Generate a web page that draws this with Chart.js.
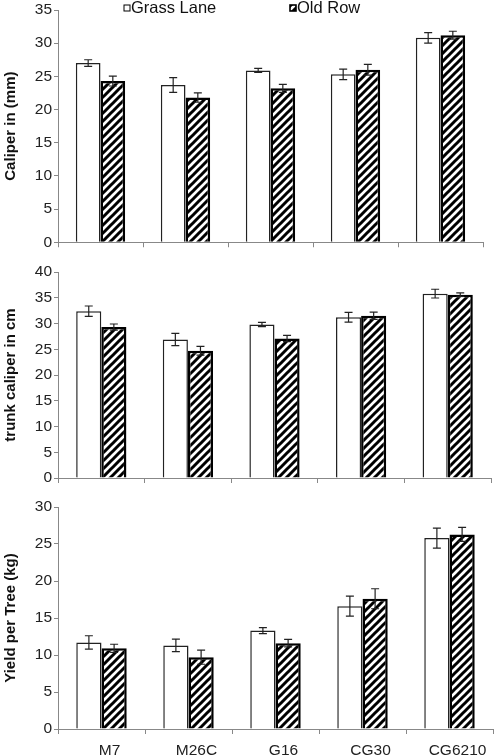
<!DOCTYPE html>
<html>
<head>
<meta charset="utf-8">
<script src="https://cdn.jsdelivr.net/npm/chart.js@4"></script>
<style>
  html, body { margin: 0; padding: 0; background: #fff; }
  body { width: 495px; height: 755px; position: relative; overflow: hidden; }
  canvas { position: absolute; left: 0; }
</style>
</head>
<body>
<canvas id="ch-caliper" width="495" height="252" style="top:0"></canvas>
<canvas id="ch-trunk" width="495" height="236" style="top:252px"></canvas>
<canvas id="ch-yield" width="495" height="267" style="top:488px"></canvas>
<script>
const rootstocks = ['M7', 'M26C', 'G16', 'CG30', 'CG6210']
const seriesNames = ['Grass Lane', 'Old Row']

const caliperGrass = [27.0, 23.7, 25.9, 25.3, 30.8]
const caliperGrassErr = [0.5, 1.1, 0.3, 0.8, 0.8]
const caliperOld = [24.3, 21.8, 23.2, 26.0, 31.2]
const caliperOldErr = [0.75, 0.7, 0.6, 0.8, 0.6]

const trunkGrass = [32.4, 26.9, 29.8, 31.2, 35.8]
const trunkGrassErr = [1.0, 1.2, 0.4, 0.95, 0.85]
const trunkOld = [29.3, 24.7, 27.1, 31.5, 35.6]
const trunkOldErr = [0.6, 0.85, 0.6, 0.7, 0.35]

const yieldGrass = [11.7, 11.3, 13.3, 16.6, 25.8]
const yieldGrassErr = [0.9, 0.85, 0.4, 1.35, 1.35]
const yieldOld = [10.9, 9.7, 11.6, 17.6, 26.3]
const yieldOldErr = [0.55, 0.95, 0.5, 1.35, 0.95]

// y tick ranges: [max, step]
const caliperTicks = [35, 5]
const trunkTicks = [40, 5]
const yieldTicks = [30, 5]

const FONT = '"Liberation Sans", Arial, sans-serif'

function hatch() {
  const c = document.createElement('canvas')
  c.width = 8; c.height = 8
  const g = c.getContext('2d')
  g.fillStyle = '#fff'; g.fillRect(0, 0, 8, 8)
  g.strokeStyle = '#000'; g.lineWidth = 3
  g.beginPath()
  g.moveTo(-4, 4); g.lineTo(4, -4)
  g.moveTo(0, 8); g.lineTo(8, 0)
  g.moveTo(4, 12); g.lineTo(12, 4)
  g.stroke()
  return g.createPattern(c, 'repeat')
}
const hatchFill = hatch()

const errorBars = {
  id: 'errorBars',
  afterDatasetsDraw(chart) {
    const ctx = chart.ctx
    const y = chart.scales.y
    ctx.save()
    ctx.strokeStyle = '#222'
    ctx.lineWidth = 1.2
    chart.data.datasets.forEach((ds, i) => {
      const meta = chart.getDatasetMeta(i)
      meta.data.forEach((bar, j) => {
        const v = ds.data[j], e = ds.errors[j]
        const x = bar.x
        const top = y.getPixelForValue(v + e)
        const bot = y.getPixelForValue(v - e)
        ctx.beginPath()
        ctx.moveTo(x, top); ctx.lineTo(x, bot)
        ctx.moveTo(x - 4, top); ctx.lineTo(x + 4, top)
        ctx.moveTo(x - 4, bot); ctx.lineTo(x + 4, bot)
        ctx.stroke()
      })
    })
    ctx.restore()
  }
}

const topLegend = {
  id: 'topLegend',
  afterDraw(chart) {
    const ctx = chart.ctx
    const spots = [124, 290]
    ctx.save()
    ctx.font = '16.5px ' + FONT
    ctx.textBaseline = 'middle'
    chart.data.datasets.forEach((ds, i) => {
      const x = spots[i]
      ctx.fillStyle = ds.backgroundColor
      ctx.fillRect(x, 5, 6, 6)
      ctx.strokeStyle = '#000'
      ctx.lineWidth = i ? 1.6 : 1
      ctx.strokeRect(x, 5, 6, 6)
      ctx.fillStyle = '#111'
      ctx.fillText(ds.label, x + 7, 8.5)
    })
    ctx.restore()
  }
}

function makeChart(id, grass, grassErr, old, oldErr, ticks, title, opts) {
  const el = document.getElementById(id)
  return new Chart(el, {
    type: 'bar',
    data: {
      labels: rootstocks,
      datasets: [
        { label: seriesNames[0], data: grass, errors: grassErr, backgroundColor: '#fff', borderColor: '#222', borderWidth: 1.5 },
        { label: seriesNames[1], data: old, errors: oldErr, backgroundColor: hatchFill, borderColor: '#000', borderWidth: 2.5 }
      ]
    },
    options: {
      responsive: false,
      animation: false,
      devicePixelRatio: 1,
      categoryPercentage: 0.58,
      barPercentage: 1,
      layout: { padding: { top: opts.top, right: opts.right, left: 0, bottom: 0 } },
      plugins: { legend: { display: false }, tooltip: { enabled: false } },
      scales: {
        x: {
          grid: { drawOnChartArea: false, drawTicks: true, tickLength: 5, color: '#888' },
          border: { color: '#888' },
          ticks: { display: opts.labels, color: '#222', labelOffset: 8, padding: 7, font: { family: FONT, size: 15.5 } },
          afterFit(s) { s.height = opts.xh }
        },
        y: {
          min: 0, max: ticks[0],
          grid: { drawOnChartArea: false, drawTicks: true, tickLength: 4, color: '#888' },
          border: { color: '#888' },
          ticks: { stepSize: ticks[1], color: '#222', padding: 2, font: { family: FONT, size: 15.5, lineHeight: 1 } },
          title: { display: true, text: title, color: '#111', padding: { top: 2, bottom: 0 }, font: { family: FONT, size: 15, weight: 'bold' } },
          afterFit(s) { s.width = 58 }
        }
      }
    },
    plugins: opts.legend ? [errorBars, topLegend] : [errorBars]
  })
}

makeChart('ch-caliper', caliperGrass, caliperGrassErr, caliperOld, caliperOldErr, caliperTicks, 'Caliper in (mm)', { top: 10, right: 12, xh: 9, labels: false, legend: true })
makeChart('ch-trunk', trunkGrass, trunkGrassErr, trunkOld, trunkOldErr, trunkTicks, 'trunk caliper in cm', { top: 20, right: 4, xh: 10, labels: false, legend: false })
makeChart('ch-yield', yieldGrass, yieldGrassErr, yieldOld, yieldOldErr, yieldTicks, 'Yield per Tree (kg)', { top: 19, right: 2, xh: 26, labels: true, legend: false })
</script>
</body>
</html>
